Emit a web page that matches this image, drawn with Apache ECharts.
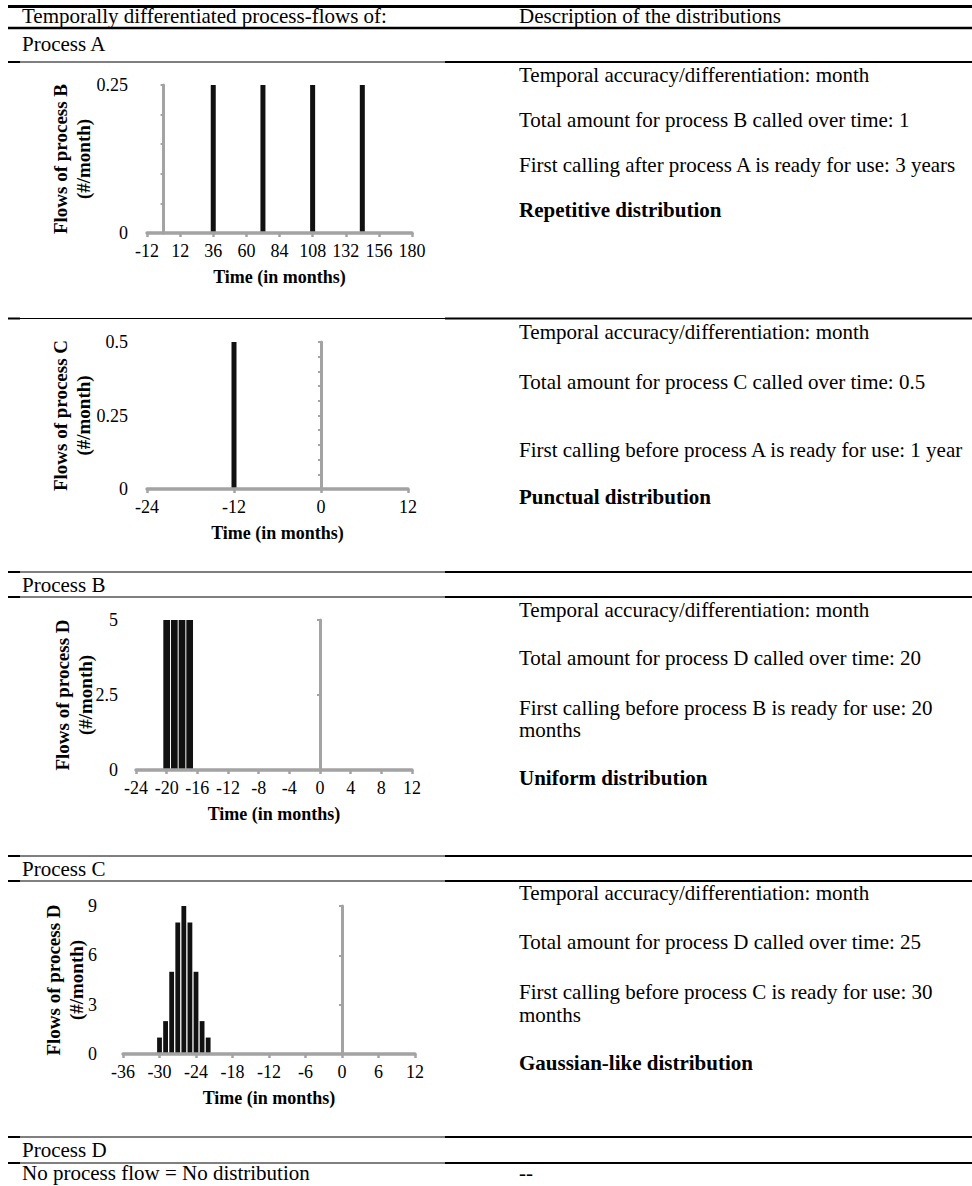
<!DOCTYPE html>
<html>
<head>
<meta charset="utf-8">
<script src="https://cdn.jsdelivr.net/npm/echarts@6/dist/echarts.min.js"></script>
<style>
  html, body { margin: 0; padding: 0; background: #fff; }
  #chart { width: 972px; height: 1186px; }
</style>
</head>
<body>
<div id="chart"></div>
<script>
// ---------- DATA ----------
// Chart 1: flows of process B called by process A (repetitive)
const monthsB = [36, 72, 108, 144];
const flowsB = [0.25, 0.25, 0.25, 0.25];
const xTicksB = [-12, 12, 36, 60, 84, 108, 132, 156, 180];

// Chart 2: flows of process C called by process A (punctual)
const monthsC = [-12];
const flowsC = [0.5];
const xTicksC = [-24, -12, 0, 12];

// Chart 3: flows of process D called by process B (uniform)
const monthsD1 = [-20, -19, -18, -17];
const flowsD1 = [5, 5, 5, 5];
const xTicksD1 = [-24, -20, -16, -12, -8, -4, 0, 4, 8, 12];

// Chart 4: flows of process D called by process C (gaussian-like)
const monthsD2 = [-30, -29, -28, -27, -26, -25, -24, -23, -22];
const flowsD2 = [1, 2, 5, 8, 9, 8, 5, 2, 1];
const xTicksD2 = [-36, -30, -24, -18, -12, -6, 0, 6, 12];

// Table texts
const headerLeft = 'Temporally differentiated process-flows of:';
const headerRight = 'Description of the distributions';
const rowTitles = ['Process A', 'Process B', 'Process C', 'Process D'];
const lastRowLeft = 'No process flow = No distribution';
const lastRowRight = '--';
const descriptions = [
  ['Temporal accuracy/differentiation: month', 'Total amount for process B called over time: 1', 'First calling after process A is ready for use: 3 years', 'Repetitive distribution'],
  ['Temporal accuracy/differentiation: month', 'Total amount for process C called over time: 0.5', 'First calling before process A is ready for use: 1 year', 'Punctual distribution'],
  ['Temporal accuracy/differentiation: month', 'Total amount for process D called over time: 20', 'First calling before process B is ready for use: 20', 'months', 'Uniform distribution'],
  ['Temporal accuracy/differentiation: month', 'Total amount for process D called over time: 25', 'First calling before process C is ready for use: 30', 'months', 'Gaussian-like distribution']
];

// ---------- STYLE / LAYOUT ----------
const FONT = '"Liberation Serif", "Times New Roman", serif';
const GREY = '#a3a3a3';
const BAR = '#111111';

const charts = [
  { months: monthsB, flows: flowsB, xTicks: xTicksB, xMin: -12, xMax: 180, yMax: 0.25, yStep: 0.25, yMinor: 0.05,
    grid: { left: 147, top: 85, width: 265, height: 148 }, barWidth: 5, yLabelMargin: 19, yNameGap: 52,
    yName: 'Flows of process B\n(#/month)' },
  { months: monthsC, flows: flowsC, xTicks: xTicksC, xMin: -24, xMax: 12, yMax: 0.5, yStep: 0.25, yMinor: 0.05,
    grid: { left: 147, top: 342, width: 261, height: 147 }, barWidth: 5, yLabelMargin: 19, yNameGap: 52,
    yName: 'Flows of process C\n(#/month)' },
  { months: monthsD1, flows: flowsD1, xTicks: xTicksD1, xMin: -24, xMax: 12, yMax: 5, yStep: 2.5, yMinor: 2.5,
    grid: { left: 136, top: 620, width: 276, height: 150 }, barWidth: 6.7, yLabelMargin: 18, yNameGap: 39,
    yName: 'Flows of process D\n(#/month)' },
  { months: monthsD2, flows: flowsD2, xTicks: xTicksD2, xMin: -36, xMax: 12, yMax: 9, yStep: 3, yMinor: 3,
    grid: { left: 123, top: 906, width: 292, height: 148 }, barWidth: 4.8, yLabelMargin: 26, yNameGap: 35,
    yName: 'Flows of process D\n(#/month)' }
];

const grids = [], xAxes = [], yAxes = [], series = [];
charts.forEach((c, i) => {
  grids.push(Object.assign({ outerBoundsMode: 'none', containLabel: false }, c.grid));
  xAxes.push({
    type: 'value', gridIndex: i, min: c.xMin, max: c.xMax, z: 5,
    name: 'Time (in months)', nameLocation: 'middle', nameGap: 35, nameMoveOverlap: false,
    nameTextStyle: { fontFamily: FONT, fontWeight: 'bold', fontSize: 18, color: '#000' },
    axisLine: { show: true, onZero: true, lineStyle: { color: GREY, width: 3.5 } },
    axisTick: { show: true, customValues: c.xTicks, length: 4, lineStyle: { color: GREY, width: 2.5 } },
    axisLabel: { show: true, customValues: c.xTicks, margin: 9, fontFamily: FONT, fontSize: 18, color: '#000',
                 showMinLabel: true, showMaxLabel: true, hideOverlap: false },
    splitLine: { show: false }
  });
  // label axis at the left edge (no line)
  yAxes.push({
    type: 'value', gridIndex: i, min: 0, max: c.yMax, interval: c.yStep, position: 'left',
    name: c.yName, nameLocation: 'middle', nameGap: c.yNameGap, nameRotate: 90, nameMoveOverlap: false,
    nameTextStyle: { fontFamily: FONT, fontWeight: 'bold', fontSize: 19, lineHeight: 23, color: '#000' },
    axisLine: { show: false, onZero: false },
    axisTick: { show: false },
    axisLabel: { show: true, margin: c.yLabelMargin, fontFamily: FONT, fontSize: 18, color: '#000' },
    splitLine: { show: false }
  });
  // vertical grey axis crossing the time axis at 0
  yAxes.push({
    type: 'value', gridIndex: i, min: 0, max: c.yMax, interval: c.yMinor, position: 'left', z: 5,
    axisLine: { show: true, onZero: true, lineStyle: { color: GREY, width: 3 } },
    axisTick: { show: true, length: 3, lineStyle: { color: GREY, width: 2 } },
    axisLabel: { show: false },
    splitLine: { show: false }
  });
  series.push({
    type: 'bar', xAxisIndex: i, yAxisIndex: i * 2, barWidth: c.barWidth,
    itemStyle: { color: BAR }, silent: true, animation: false,
    data: c.months.map((m, k) => [m, c.flows[k]])
  });
});

// ---------- TABLE GRAPHICS ----------
const graphic = [];
function txt(t, x, y, bold) {
  graphic.push({ type: 'text', silent: true, style: { text: t, x: x, y: y, fill: '#000',
    font: (bold ? 'bold ' : '') + '21px ' + FONT, align: 'left', verticalAlign: 'middle' } });
}
function ln(x1, y, x2, w) {
  graphic.push({ type: 'line', silent: true, shape: { x1: x1, y1: y, x2: x2, y2: y },
    style: { stroke: '#000', lineWidth: w } });
}
function sep(y) { ln(8, y, 20, 2); ln(20, y, 445, 1); ln(445, y, 972, 2); }

ln(8, 6.5, 972, 3);
ln(8, 28, 972, 2.5);
[62, 318.5, 572, 597, 856, 881, 1137, 1163].forEach(sep);

const LX = 22, RX = 519;
txt(headerLeft, LX, 16);
txt(headerRight, RX, 16);
txt(rowTitles[0], LX, 44);
txt(rowTitles[1], LX, 585);
txt(rowTitles[2], LX, 869);
txt(rowTitles[3], LX, 1150);
txt(lastRowLeft, LX, 1173);
txt(lastRowRight, RX, 1173);

const descY = [
  [75, 120, 165, 210],
  [332, 382, 450, 497],
  [610, 658, 708, 730, 778],
  [893, 942, 992, 1015, 1063]
];
descriptions.forEach((block, b) => {
  block.forEach((t, k) => txt(t, RX, descY[b][k], k === block.length - 1));
});

const chart = echarts.init(document.getElementById('chart'), null, { renderer: 'svg' });
chart.setOption({
  animation: false,
  backgroundColor: '#fff',
  textStyle: { fontFamily: FONT },
  grid: grids, xAxis: xAxes, yAxis: yAxes, series: series,
  graphic: graphic
});
</script>
</body>
</html>
